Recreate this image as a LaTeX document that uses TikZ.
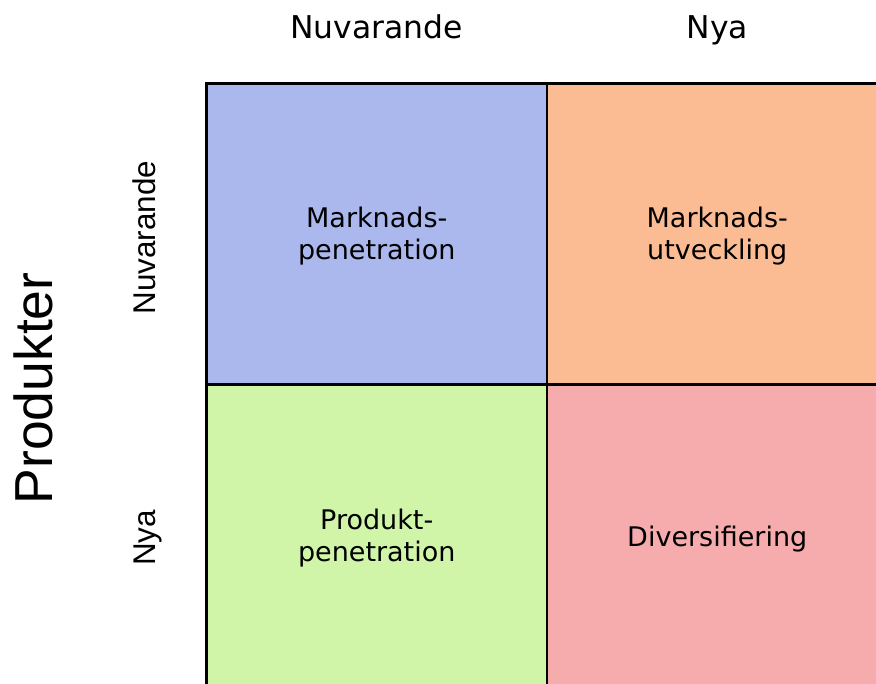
\documentclass[tikz,border=0pt]{standalone}
\usepackage{fontspec}
\setmainfont{DejaVu Sans}
\newfontfamily\arialfont{Liberation Sans}
\definecolor{cblue}{RGB}{170,184,238}
\definecolor{corange}{RGB}{251,188,148}
\definecolor{cgreen}{RGB}{208,245,169}
\definecolor{cpink}{RGB}{246,172,172}
\begin{document}
\begin{tikzpicture}[x=1pt,y=-1pt,
  cell/.style={draw=black,line width=2.5pt,inner sep=0pt,minimum width=340.5pt,minimum height=301pt},
  celltext/.style={inner sep=0pt,align=center,font=\fontsize{27}{32}\selectfont},
  toplabel/.style={anchor=base,inner sep=0pt,font=\fontsize{31.4}{36}\selectfont},
  sidelabel/.style={anchor=base,rotate=90,inner sep=0pt,font=\arialfont\fontsize{31.4}{36}\selectfont},
  biglabel/.style={anchor=base,rotate=90,inner sep=0pt,font=\arialfont\fontsize{53.5}{60}\selectfont}]
\clip (0,0) rectangle (876,684);
\fill[white] (0,0) rectangle (876,684);
\node[cell,fill=cblue] (mp) at (376.75,234) {};
\node[cell,fill=corange] (mu) at (717.25,234) {};
\node[cell,fill=cgreen] (pp) at (376.75,535) {};
\node[cell,fill=cpink] (dv) at (717.25,535) {};
\node[celltext] (mpt) at ([yshift=-2pt]mp.center) {Marknads-\\penetration};
\node[celltext] (mut) at ([yshift=-2pt]mu.center) {Marknads-\\utveckling};
\node[celltext] (ppt) at ([yshift=-3pt]pp.center) {Produkt-\\penetration};
\node[celltext] (dvt) at ([yshift=-4pt]dv.center) {Diversifiering};
\node[toplabel] (tn) at (376.5,39) {Nuvarande};
\node[toplabel] (tny) at (717.5,39) {Nya};
\node[sidelabel] (sn) at (155,237.5) {Nuvarande};
\node[sidelabel] (sny) at (155,538) {Nya};
\node[biglabel] (prod) at (52,388.5) {Produkter};
\end{tikzpicture}
\end{document}
